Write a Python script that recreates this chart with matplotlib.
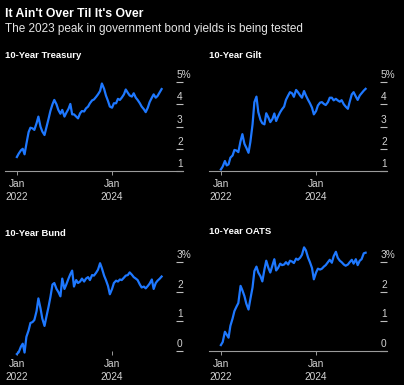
import matplotlib
matplotlib.use('Agg')
import matplotlib.pyplot as plt
import matplotlib.transforms as mtransforms
import pandas as pd

plt.rcParams['font.family'] = ['Liberation Sans', 'DejaVu Sans']

# semi-monthly readings, Jan 2022 - mid Jan 2025
dates = pd.date_range('2022-01-01', '2025-01-15', freq='SMS')

treasury = [1.63, 1.78, 1.93, 2.00, 1.75, 2.22, 2.75, 2.95, 2.92, 2.85,
            3.15, 3.45, 3.00, 2.78, 2.62, 2.95, 3.35, 3.70, 4.00, 4.20,
            4.00, 3.75, 3.58, 3.75, 3.45, 3.62, 3.80, 4.02, 3.55, 3.55,
            3.45, 3.37, 3.60, 3.70, 3.68, 3.82, 3.90, 4.05, 4.18, 4.22,
            4.34, 4.45, 4.60, 4.94, 4.70, 4.40, 4.15, 3.90, 3.85, 4.05,
            4.05, 4.25, 4.20, 4.30, 4.45, 4.67, 4.52, 4.40, 4.35, 4.50,
            4.30, 4.20, 4.05, 3.90, 3.78, 3.65, 3.85, 4.10, 4.30, 4.45,
            4.30, 4.38, 4.55, 4.69]
gilt = [1.07, 1.20, 1.45, 1.25, 1.30, 1.60, 1.70, 1.95, 1.92, 1.85,
        2.35, 2.66, 2.22, 2.05, 1.82, 2.30, 3.10, 4.10, 4.35, 3.65,
        3.30, 3.15, 3.10, 3.60, 3.40, 3.20, 3.35, 3.59, 3.25, 3.45,
        3.65, 3.78, 3.90, 4.20, 4.40, 4.55, 4.50, 4.34, 4.65, 4.55,
        4.40, 4.30, 4.60, 4.40, 4.20, 4.05, 3.85, 3.55, 3.70, 3.95,
        4.08, 4.10, 4.02, 3.97, 4.10, 4.30, 4.30, 4.18, 4.25, 4.18,
        4.12, 4.19, 4.00, 3.90, 3.80, 4.12, 4.45, 4.55, 4.35, 4.20,
        4.40, 4.50, 4.62, 4.70]
bund = [-0.10, -0.04, 0.15, 0.25, -0.05, 0.48, 0.70, 0.95, 0.98, 1.05,
        1.35, 1.78, 1.45, 1.10, 0.85, 1.15, 1.50, 1.82, 2.25, 2.30,
        2.10, 2.00, 1.85, 2.45, 2.10, 2.25, 2.45, 2.60, 2.72, 2.18,
        2.40, 2.30, 2.35, 2.45, 2.35, 2.45, 2.50, 2.40, 2.57, 2.55,
        2.65, 2.75, 2.97, 2.80, 2.55, 2.40, 2.20, 1.92, 2.10, 2.30,
        2.38, 2.35, 2.42, 2.40, 2.48, 2.55, 2.57, 2.66, 2.58, 2.50,
        2.45, 2.40, 2.25, 2.15, 2.18, 2.12, 2.20, 2.28, 2.42, 2.10,
        2.30, 2.38, 2.45, 2.52]
oats = [0.20, 0.30, 0.65, 0.55, 0.45, 0.85, 1.10, 1.35, 1.50, 1.62,
        2.20, 2.05, 1.85, 1.60, 1.40, 1.75, 2.15, 2.70, 2.85, 2.65,
        2.52, 2.35, 2.75, 3.05, 2.80, 2.65, 2.90, 3.10, 2.72, 2.80,
        2.95, 2.90, 2.92, 3.00, 2.92, 3.05, 3.02, 2.97, 3.12, 3.08,
        3.15, 3.25, 3.50, 3.40, 3.15, 3.00, 2.80, 2.42, 2.65, 2.78,
        2.75, 2.78, 2.85, 2.90, 3.00, 3.08, 2.98, 3.20, 3.35, 3.15,
        3.05, 3.00, 2.92, 2.88, 2.92, 3.00, 3.08, 2.95, 3.10, 2.90,
        3.05, 3.10, 3.30, 3.32]

xtick_dates = pd.to_datetime(['2022-01-01', '2024-01-01'])
xtick_labels = ['Jan\n2022', 'Jan\n2024']
ticks_high = [1, 2, 3, 4, 5]
ticks_low = [0, 1, 2, 3]

W, H = 404, 385
blue = '#1e78ff'
txt = '#d2d2d2'

fig = plt.figure(figsize=(W / 100, H / 100), dpi=100, facecolor='black')

fig.text(5 / W, 1 - 14 / H, "It Ain't Over Til It's Over", color='white',
         fontsize=8.8, fontweight='bold', va='center')
fig.text(5 / W, 1 - 29 / H, 'The 2023 peak in government bond yields is being tested',
         color='#e6e6e6', fontsize=8.5, va='center')


def panel(x0, top, bottom, title, title_y, values, ylim, yticks, baseline=True):
    ax = fig.add_axes([x0 / W, 1 - bottom / H, 178 / W, (bottom - top) / H])
    ax.set_facecolor('black')
    ax.plot(dates, values, color=blue, lw=1.6)
    ax.set_ylim(*ylim)
    ax.set_xlim(pd.Timestamp('2021-10-02'), pd.Timestamp('2025-06-28'))
    for s in ['top', 'left', 'right']:
        ax.spines[s].set_visible(False)
    ax.spines['bottom'].set_color('#9a9a9a')
    ax.spines['bottom'].set_linewidth(0.8)
    if not baseline:
        ax.spines['bottom'].set_position(('data', 0))
        ax.spines['bottom'].set_visible(False)
    ax.set_xticks(xtick_dates)
    ax.set_xticklabels(xtick_labels, linespacing=1.3)
    ax.tick_params(axis='x', colors='#9a9a9a', labelcolor=txt, labelsize=7.3,
                   length=3, width=0.7, pad=3)
    ax.yaxis.tick_right()
    ax.set_yticks(yticks)
    ax.tick_params(axis='y', direction='in', colors='#bdbdbd', length=5,
                   width=0.8, labelright=False)
    tr = mtransforms.offset_copy(
        mtransforms.blended_transform_factory(ax.transAxes, ax.transData),
        fig=fig, x=-6, y=2, units='dots')
    for i, v in enumerate(yticks):
        lab = f'{v}%' if i == len(yticks) - 1 else f'{v}'
        ax.text(1, v, lab, transform=tr, ha='left', va='bottom',
                color=txt, fontsize=7.3)
    fig.text(x0 / W, 1 - title_y / H, title, color='white', fontsize=6.8,
             fontweight='bold', va='center')
    return ax


panel(5, 75.5, 171, '10-Year Treasury', 55, treasury, (1.0, 5.3), ticks_high)
panel(209, 75.5, 171, '10-Year Gilt', 55, gilt, (1.0, 5.3), ticks_high)
panel(5, 256.4, 357, '10-Year Bund', 234, bund, (-0.2, 3.2), ticks_low, baseline=False)
panel(209, 244.4, 351, '10-Year OATS', 231, oats, (0, 3.6), ticks_low)

fig.savefig('out.png', dpi=100, facecolor='black')
